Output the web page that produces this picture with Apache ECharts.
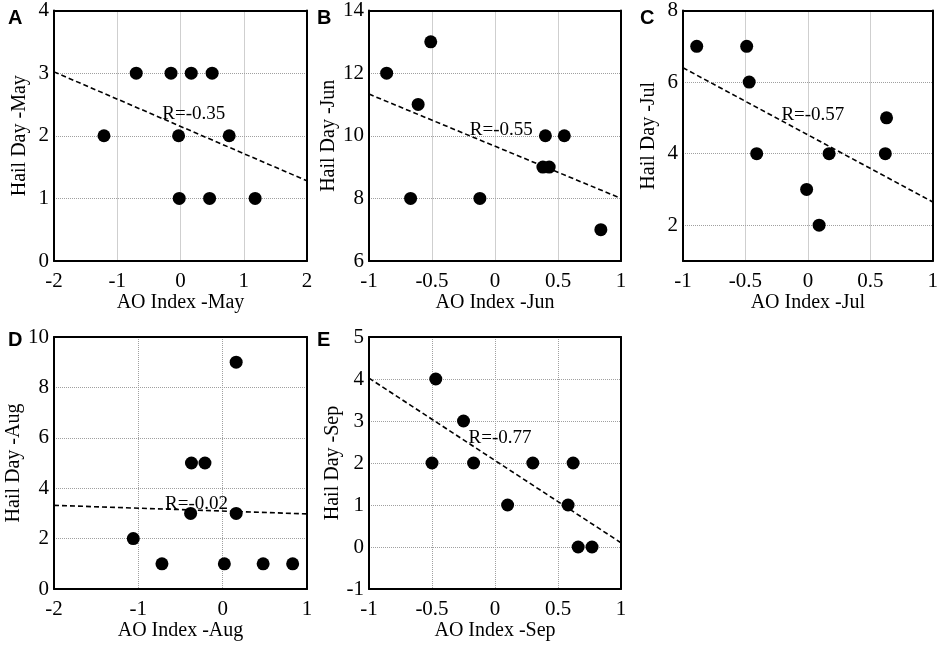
<!DOCTYPE html>
<html>
<head>
<meta charset="UTF-8">
<title>Hail Day vs AO Index</title>
<script src="https://cdn.jsdelivr.net/npm/echarts@6/dist/echarts.min.js"></script>
<style>
  html,body{margin:0;height:100%;background:#fff;}
  #chart{width:941px;height:646px;}
</style>
</head>
<body>
<div id="chart"></div>
<script>
// A - May
const mayAO   = [-0.70,-0.15,0.17,0.50,-1.21,-0.03,0.77,-0.02,0.46,1.18];
const mayHail = [3,3,3,3,2,2,2,1,1,1];
const mayFit  = [[-2,3.02],[2,1.28]];
// B - Jun
const junAO   = [-0.86,-0.51,-0.61,-0.67,-0.12,0.40,0.55,0.38,0.43,0.84];
const junHail = [12,13,11,8,8,10,10,9,9,7];
const junFit  = [[-1,11.33],[1,8.0]];
// C - Jul
const julAO   = [-0.89,-0.49,-0.47,-0.41,0.17,0.62,0.63,-0.01,0.09];
const julHail = [7,7,6,4,4,4,5,3,2];
const julFit  = [[-1,6.40],[1,2.65]];
// D - Aug
const augAO   = [0.16,-0.37,-0.21,-0.38,0.16,-1.06,-0.72,0.02,0.48,0.83];
const augHail = [9,5,5,3,3,2,1,1,1,1];
const augFit  = [[-2,3.32],[1,2.98]];
// E - Sep
const sepAO   = [-0.47,-0.25,-0.50,-0.17,0.30,0.62,0.10,0.58,0.66,0.77];
const sepHail = [4,3,2,2,2,2,1,1,0,0];
const sepFit  = [[-1,4.02],[1,0.10]];

const rLabels = ['R=-0.35','R=-0.55','R=-0.57','R=-0.02','R=-0.77'];
const rPos    = [[0.21,2.35],[0.05,10.18],[0.04,5.07],[-0.31,3.39],[0.04,2.6]];
const letters = ['A','B','C','D','E'];
const months  = ['May','Jun','Jul','Aug','Sep'];

const panels = [
  {ao:mayAO, hail:mayHail, fit:mayFit, x:[-2,2,1],   y:[0,4,1]},
  {ao:junAO, hail:junHail, fit:junFit, x:[-1,1,0.5], y:[6,14,2]},
  {ao:julAO, hail:julHail, fit:julFit, x:[-1,1,0.5], y:[1,8,null]},
  {ao:augAO, hail:augHail, fit:augFit, x:[-2,1,1],   y:[0,10,2]},
  {ao:sepAO, hail:sepHail, fit:sepFit, x:[-1,1,0.5], y:[-1,5,1]}
];

const boxes = [
  {left:54, top:9,   w:253, h:252},
  {left:369,top:9,   w:252, h:252},
  {left:683,top:9,   w:250, h:252},
  {left:54, top:337, w:253, h:252},
  {left:369,top:337, w:252, h:252}
];
const letterPos = [[8,8],[317,8],[640,8],[8,330],[317,330]];

const FONT = '"Liberation Serif", "DejaVu Serif", serif';
const grid = [], xAxis = [], yAxis = [], series = [], graphic = [];

panels.forEach((p,i)=>{
  const b = boxes[i];
  grid.push({left:b.left, top:b.top, width:b.w, height:b.h});
  const line = {show:true, onZero:false, lineStyle:{color:'#000', width:2}};
  const split = {show:true, lineStyle:{color:'#a0a0a0', type:'dotted', width:1}};
  const lab = {color:'#000', fontFamily:FONT, fontSize:21};
  xAxis.push({
    type:'value', gridIndex:i, min:p.x[0], max:p.x[1], interval:p.x[2],
    axisLine:line, axisTick:{show:false}, splitLine:split,
    axisLabel:Object.assign({margin:10}, lab),
    name:'AO Index -' + months[i], nameLocation:'middle', nameGap:29,
    nameTextStyle:{color:'#000', fontFamily:FONT, fontSize:20}
  });
  xAxis.push({
    type:'value', gridIndex:i, position:'top', min:p.x[0], max:p.x[1],
    axisLine:line, axisTick:{show:false}, axisLabel:{show:false}, splitLine:{show:false}
  });
  const ya = {
    type:'value', gridIndex:i, min:p.y[0], max:p.y[1],
    axisLine:line, axisTick:{show:false}, splitLine:split,
    axisLabel:Object.assign({margin:5}, lab),
    name:'Hail Day -' + months[i], nameLocation:'middle', nameGap:24,
    nameTextStyle:{color:'#000', fontFamily:FONT, fontSize:20}
  };
  if (p.y[2] !== null) ya.interval = p.y[2];
  else {
    ya.splitNumber = 4;
    ya.axisLabel.formatter = v => (v % 2 === 0 ? String(v) : '');
  }
  yAxis.push(ya);
  yAxis.push({
    type:'value', gridIndex:i, position:'right', min:p.y[0], max:p.y[1],
    axisLine:line, axisTick:{show:false}, axisLabel:{show:false}, splitLine:{show:false}
  });

  series.push({
    type:'line', xAxisIndex:2*i, yAxisIndex:2*i, data:p.fit,
    showSymbol:false, silent:true,
    lineStyle:{color:'#000', width:1.6, type:[5,3]}
  });
  series.push({
    type:'scatter', xAxisIndex:2*i, yAxisIndex:2*i,
    data:p.ao.map((v,k)=>[v, p.hail[k]]),
    symbolSize:13, itemStyle:{color:'#000', opacity:1}
  });
  series.push({
    type:'scatter', xAxisIndex:2*i, yAxisIndex:2*i,
    data:[rPos[i]], symbolSize:0, silent:true, itemStyle:{opacity:1},
    label:{show:true, position:'inside', formatter:rLabels[i],
           color:'#000', fontFamily:FONT, fontSize:19}
  });

  graphic.push({
    type:'text', left:letterPos[i][0], top:letterPos[i][1],
    style:{text:letters[i], font:'bold 20px "Liberation Sans", Arial, sans-serif', fill:'#000'}
  });
});

const myChart = echarts.init(document.getElementById('chart'));
myChart.setOption({animation:false, grid, xAxis, yAxis, series, graphic});
</script>
</body>
</html>
